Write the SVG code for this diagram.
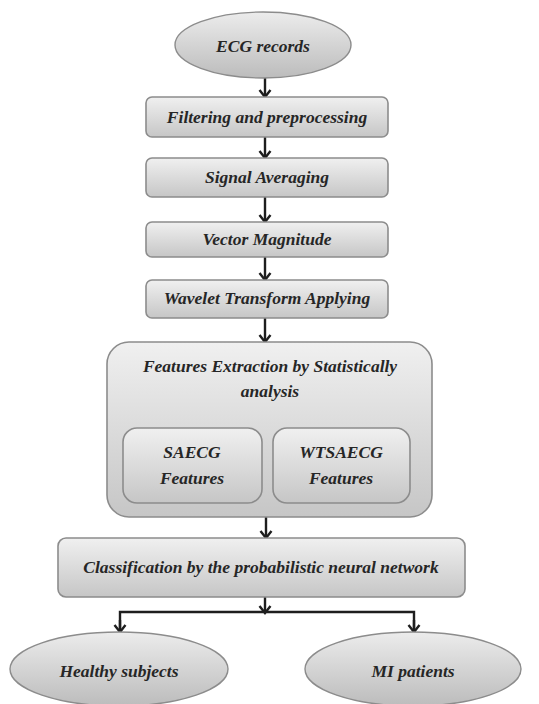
<svg xmlns="http://www.w3.org/2000/svg" width="539" height="704" viewBox="0 0 539 704">
<style>
.box{fill:url(#g);stroke:#8c8c8c;stroke-width:1.6}
.ell{fill:url(#ge);stroke:#8c8c8c;stroke-width:1.4}
.t{font-family:"Liberation Serif","Times New Roman",serif;font-weight:bold;font-style:italic;font-size:17.5px;fill:#262626;text-anchor:middle}
.c{fill:none;stroke:#1e1e1e;stroke-width:2.4}
</style>
<defs>
<linearGradient id="g" x1="0" y1="0" x2="0" y2="1">
<stop offset="0" stop-color="#f0f0f0"/>
<stop offset="1" stop-color="#c6c6c6"/>
</linearGradient>
<linearGradient id="ge" x1="0" y1="0" x2="0" y2="1">
<stop offset="0" stop-color="#ececec"/>
<stop offset="1" stop-color="#bcbcbc"/>
</linearGradient>
<marker id="ah" markerUnits="userSpaceOnUse" markerWidth="14" markerHeight="14" viewBox="0 0 14 14" refX="10" refY="7" orient="auto">
<path d="M3,1.5 L10,7 L3,12.5" fill="none" stroke="#1e1e1e" stroke-width="2.4"/>
</marker>
</defs>
<rect width="539" height="704" fill="#ffffff"/>

<g id="connectors">
<path class="c" d="M265,78 V97" marker-end="url(#ah)"/>
<path class="c" d="M265,137 V158" marker-end="url(#ah)"/>
<path class="c" d="M265,197 V222" marker-end="url(#ah)"/>
<path class="c" d="M265,257 V280" marker-end="url(#ah)"/>
<path class="c" d="M265,318 V342" marker-end="url(#ah)"/>
<path class="c" d="M266,517 V538" marker-end="url(#ah)"/>
<path class="c" d="M265,597 V613" marker-end="url(#ah)"/>
<path class="c" d="M120,632 V612 H414 V632" stroke-linejoin="miter"/>
<path class="c" d="M120,620 V632" marker-end="url(#ah)"/>
<path class="c" d="M414,620 V632" marker-end="url(#ah)"/>
</g>

<g id="ecg-records">
<ellipse class="ell" cx="263" cy="45" rx="88" ry="33"/>
<text class="t" x="263" y="52">ECG records</text>
</g>
<g id="filtering">
<rect class="box" x="146" y="97" width="242" height="40" rx="6"/>
<text class="t" x="267" y="123">Filtering and preprocessing</text>
</g>
<g id="signal-averaging">
<rect class="box" x="146" y="158" width="242" height="39" rx="6"/>
<text class="t" x="267" y="183">Signal Averaging</text>
</g>
<g id="vector-magnitude">
<rect class="box" x="146" y="222" width="242" height="35" rx="6"/>
<text class="t" x="267" y="245">Vector Magnitude</text>
</g>
<g id="wavelet">
<rect class="box" x="146" y="280" width="242" height="38" rx="6"/>
<text class="t" x="267" y="304">Wavelet Transform Applying</text>
</g>
<g id="features-extraction">
<rect class="box" x="107" y="342" width="325" height="175" rx="22"/>
<text class="t" x="270" y="372">Features Extraction by Statistically</text>
<text class="t" x="270" y="397">analysis</text>
</g>
<g id="saecg">
<rect class="box" x="123" y="428" width="139" height="75" rx="14"/>
<text class="t" x="192" y="458">SAECG</text>
<text class="t" x="192" y="484">Features</text>
</g>
<g id="wtsaecg">
<rect class="box" x="273" y="428" width="137" height="75" rx="14"/>
<text class="t" x="341" y="458">WTSAECG</text>
<text class="t" x="341" y="484">Features</text>
</g>
<g id="classification">
<rect class="box" x="58" y="538" width="407" height="59" rx="8"/>
<text class="t" x="261" y="573">Classification by the probabilistic neural network</text>
</g>
<g id="healthy">
<ellipse class="ell" cx="119" cy="669" rx="109" ry="37"/>
<text class="t" x="119" y="677">Healthy subjects</text>
</g>
<g id="mi-patients">
<ellipse class="ell" cx="413" cy="669" rx="108" ry="37"/>
<text class="t" x="413" y="677">MI patients</text>
</g>
</svg>
